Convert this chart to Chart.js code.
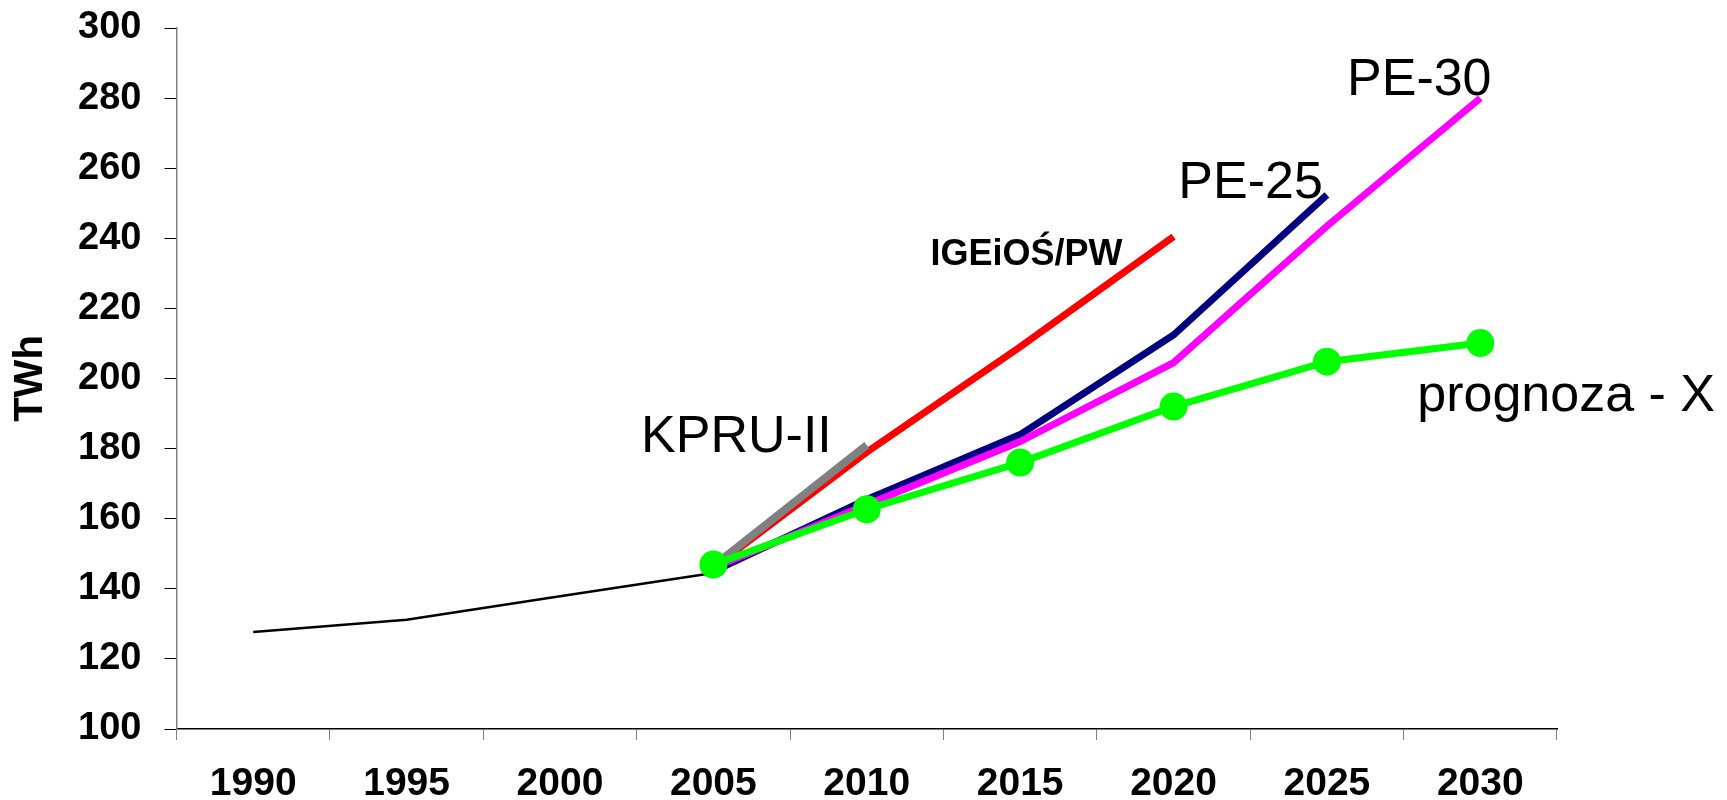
<!DOCTYPE html>
<html>
<head>
<meta charset="utf-8">
<script src="https://cdn.jsdelivr.net/npm/chart.js@4"></script>
<style>
    html, body { margin: 0; padding: 0; background: #fff; }
    #wrap { width: 1727px; height: 800px; position: relative; }
</style>
</head>
<body>
<div id="wrap"><canvas id="energyChart"></canvas></div>
<script>
// ===== DATA =====
const years = ['1990', '1995', '2000', '2005', '2010', '2015', '2020', '2025', '2030'];
const yTicks = [100, 120, 140, 160, 180, 200, 220, 240, 260, 280, 300];

const history   = [127.7, 131.2, 137.9, 144.5, null, null, null, null, null];
const kpru      = [null, null, null, 146.5, 181.0, null, null, null, null];
const igeios    = [null, null, null, 146.0, 179.0, 209.0, 240.5, null, null];
const pe25      = [null, null, null, 145.0, 165.5, 184.0, 212.4, 252.4, null];
const pe30      = [null, null, null, 146.0, 164.0, 182.0, 204.5, 243.5, 280.0];
const prognozaX = [null, null, null, 146.9, 162.7, 176.0, 192.0, 204.8, 210.1];

const FONT = "'Liberation Sans', Arial, sans-serif";

// text labels placed in data coordinates (category index, value at baseline)
const annotations = [
    { text: 'KPRU-II',     x: 2.529, y: 178.9, font: '52px ' + FONT },
    { text: 'IGEiOŚ/PW',   x: 4.415, y: 232.4, font: 'bold 36px ' + FONT },
    { text: 'PE-25',       x: 6.031, y: 251.4, font: '52px ' + FONT },
    { text: 'PE-30',       x: 7.131, y: 280.9, font: '52px ' + FONT },
    { text: 'prognoza - X', x: 7.589, y: 190.6, font: '52px ' + FONT }
];

const labelPlugin = {
    id: 'seriesLabels',
    afterDatasetsDraw(chart) {
        const ctx = chart.ctx;
        const xs = chart.scales.x;
        const ys = chart.scales.y;
        ctx.save();
        ctx.fillStyle = '#000';
        ctx.textAlign = 'left';
        ctx.textBaseline = 'alphabetic';
        annotations.forEach(a => {
            ctx.font = a.font;
            ctx.fillText(a.text, xs.getPixelForValue(a.x), ys.getPixelForValue(a.y));
        });
        ctx.restore();
    }
};

function lineSet(label, data, color, width, order) {
    return {
        label: label,
        data: data,
        borderColor: color,
        backgroundColor: color,
        borderWidth: width,
        pointRadius: 0,
        pointHoverRadius: 0,
        tension: 0,
        spanGaps: false,
        fill: false,
        order: order
    };
}

function initializeChart() {
    const ctx = document.getElementById('energyChart');

    const green = lineSet('prognoza - X', prognozaX, '#00ff00', 7, 0);
    green.pointRadius = 14;
    green.pointBorderWidth = 0;
    green.pointBackgroundColor = '#00ff00';

    new Chart(ctx, {
        type: 'line',
        data: {
            labels: years,
            datasets: [
                lineSet('history', history, '#000000', 2.5, 5),
                lineSet('PE-25', pe25, '#000080', 7, 4),
                lineSet('PE-30', pe30, '#ff00ff', 7, 3),
                lineSet('IGEiOŚ/PW', igeios, '#ff0000', 7, 2),
                lineSet('KPRU-II', kpru, '#808080', 8, 1),
                green
            ]
        },
        options: {
            responsive: false,
            animation: false,
            devicePixelRatio: 1,
            layout: { padding: { top: 28, right: 170, bottom: 0, left: 0 } },
            plugins: {
                legend: { display: false },
                tooltip: { enabled: false }
            },
            scales: {
                x: {
                    type: 'category',
                    offset: true,
                    grid: {
                        display: true,
                        offset: true,
                        drawOnChartArea: false,
                        drawTicks: true,
                        tickLength: 11,
                        color: '#808080'
                    },
                    border: { display: true, color: '#000000', width: 1.5 },
                    ticks: {
                        color: '#000',
                        padding: 21,
                        maxRotation: 0,
                        autoSkip: false,
                        font: { family: FONT, size: 39, weight: 'bold' }
                    },
                    afterFit(scale) {
                        scale.height = 71;
                        scale.paddingLeft = 0;
                        scale.paddingRight = 0;
                    }
                },
                y: {
                    min: 100,
                    max: 300,
                    afterBuildTicks(scale) {
                        scale.ticks = yTicks.map(v => ({ value: v }));
                    },
                    grid: {
                        display: true,
                        drawOnChartArea: false,
                        drawTicks: true,
                        tickLength: 12,
                        color: '#000000'
                    },
                    border: { display: true, color: '#808080', width: 1.5 },
                    ticks: {
                        color: '#000',
                        padding: 23,
                        font: { family: FONT, size: 38, weight: 'bold' }
                    },
                    title: {
                        display: true,
                        text: 'TWh',
                        color: '#000',
                        padding: { top: 7, bottom: 0 },
                        font: { family: FONT, size: 40, weight: 'bold' }
                    },
                    afterFit(scale) {
                        scale.width = 176.5;
                        scale.paddingTop = 0;
                        scale.paddingBottom = 0;
                    }
                }
            }
        },
        plugins: [labelPlugin]
    });
}

document.addEventListener('DOMContentLoaded', function() {
    const canvas = document.getElementById('energyChart');
    canvas.width = 1727;
    canvas.height = 800;
    canvas.style.width = '1727px';
    canvas.style.height = '800px';
    initializeChart();
});
</script>
</body>
</html>
